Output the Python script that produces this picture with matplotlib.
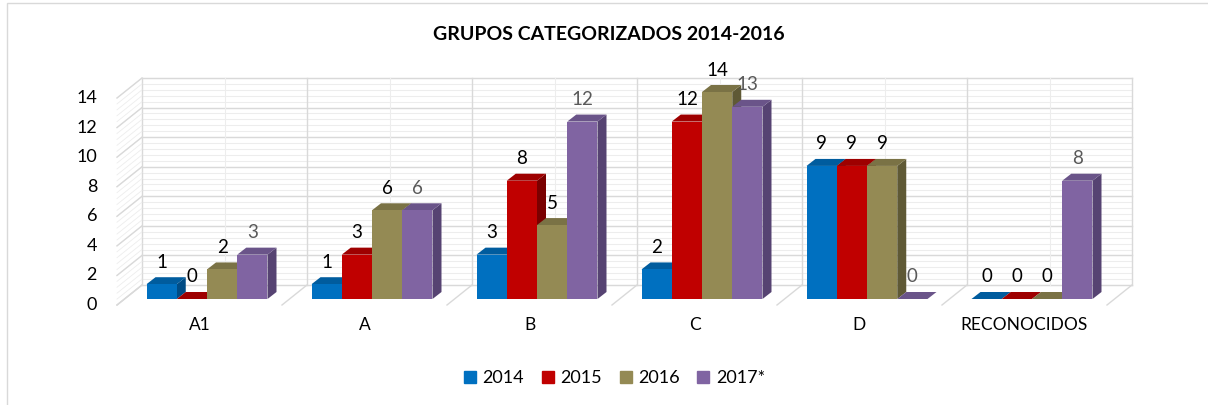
import numpy as np
import matplotlib.pyplot as plt
from matplotlib.patches import Polygon, Rectangle
from matplotlib.lines import Line2D

plt.rcParams['font.family'] = ['Lato', 'DejaVu Sans']

categories = ["A1", "A", "B", "C", "D", "RECONOCIDOS"]
series = ["2014", "2015", "2016", "2017*"]
v2014 = [1, 1, 3, 2, 9, 0]
v2015 = [0, 3, 8, 12, 9, 0]
v2016 = [2, 6, 5, 14, 9, 0]
v2017 = [3, 6, 12, 13, 0, 8]
yticks = [0, 2, 4, 6, 8, 10, 12, 14]

values = [v2014, v2015, v2016, v2017]
front_col = ['#0070C0', '#C00000', '#948A54', '#8064A2']
top_col = ['#005C9E', '#9E0000', '#7A7245', '#6A5489']
side_col = ['#004C85', '#7A0000', '#5F5935', '#564372']
lab_col = ['#000000', '#000000', '#000000', '#595959']

W, H = 1208, 405
fig = plt.figure(figsize=(W / 100, H / 100), dpi=100)

# axes = the plane the bar fronts sit in
left_px, right_px = 124.5, 1114.5
base_px, top_px = 299, 92          # y of 0 and 14 (from top)
ax = fig.add_axes([left_px / W, (H - base_px) / H,
                   (right_px - left_px) / W, (base_px - top_px) / H])
ncat = len(categories)
ax.set_xlim(0, ncat)
ax.set_ylim(0, 14)
ax.axis('off')

kx = (right_px - left_px) / ncat    # px per category
ky = (base_px - top_px) / 14.0      # px per unit

# offsets (pixels -> data)
back_dx, back_dy = 17.5 / kx, 14 / ky
front_dx, front_dy = -7.5 / kx, -6 / ky
bar_dx, bar_dy = 9 / kx, 7 / ky

grid_major = '#D9D9D9'
grid_minor = '#EDEDED'

# back wall gridlines
minor = np.arange(0, 14.001, 0.4)
for v in minor:
    ax.plot([back_dx, ncat + back_dx], [v + back_dy, v + back_dy],
            color=grid_minor, lw=0.8, clip_on=False, zorder=1)
for v in yticks:
    ax.plot([back_dx, ncat + back_dx], [v + back_dy, v + back_dy],
            color=grid_major, lw=1, clip_on=False, zorder=1)
for i in range(ncat):
    ax.plot([i + 0.5 + back_dx] * 2, [back_dy, 14 + back_dy],
            color=grid_minor, lw=0.8, clip_on=False, zorder=1)
for i in range(ncat + 1):
    ax.plot([i + back_dx] * 2, [back_dy, 14 + back_dy],
            color=grid_major, lw=1, clip_on=False, zorder=1)

# side wall slant lines
for v in minor:
    ax.plot([front_dx, back_dx], [v + front_dy, v + back_dy],
            color=grid_minor, lw=0.6, clip_on=False, zorder=1)
for v in yticks:
    ax.plot([front_dx, back_dx], [v + front_dy, v + back_dy],
            color=grid_major, lw=1, clip_on=False, zorder=1)

# floor slant lines
for i in range(ncat + 1):
    ax.plot([i + front_dx, i + back_dx], [front_dy, back_dy],
            color=grid_major, lw=1, clip_on=False, zorder=1)

# bars
nser = len(series)
bw = 0.7333 / nser
for i in range(ncat):
    for j in range(nser):
        h = values[j][i]
        x0 = i + 0.5 - 0.7333 / 2 + j * bw
        side = Polygon([(x0 + bw, 0), (x0 + bw, h), (x0 + bw + bar_dx, h + bar_dy),
                        (x0 + bw + bar_dx, bar_dy)], closed=True,
                       facecolor=side_col[j], edgecolor='none', clip_on=False, zorder=3)
        top = Polygon([(x0, h), (x0 + bw, h), (x0 + bw + bar_dx, h + bar_dy),
                       (x0 + bar_dx, h + bar_dy)], closed=True,
                      facecolor=top_col[j], edgecolor='none', clip_on=False, zorder=3)
        ax.add_patch(side)
        ax.add_patch(top)
        ax.bar(x0, h, width=bw, align='edge', color=front_col[j],
               linewidth=0, clip_on=False, zorder=3)

# value labels
for i in range(ncat):
    for j in range(nser):
        h = values[j][i]
        x0 = i + 0.5 - 0.7333 / 2 + j * bw
        ax.text(x0 + bw / 2, h + 22 / ky, str(h), ha='center', va='center',
                fontsize=13.5, color=lab_col[j], zorder=10, clip_on=False)

# y tick labels (front plane)
for v in yticks:
    ax.text(front_dx - 20 / kx, v + front_dy, str(v), ha='right', va='center',
            fontsize=13, color='#000000', clip_on=False)

# category labels
for i, c in enumerate(categories):
    ax.text(i + 0.5 + front_dx, -26 / ky, c, ha='center', va='center',
            fontsize=12.5, color='#000000', clip_on=False)

fig.text(609 / W, 1 - 34 / H, "GRUPOS CATEGORIZADOS 2014-2016", ha='center',
         va='center', fontsize=14, fontweight='bold', color='#000000')

handles = [Line2D([], [], marker='s', linestyle='none', markersize=9,
                  markerfacecolor=c, markeredgecolor=c) for c in front_col]
fig.legend(handles, series, loc='center', bbox_to_anchor=(613 / W, 1 - 378 / H),
           ncol=4, frameon=False, fontsize=13, handletextpad=0.2,
           columnspacing=0.8, handlelength=1.0)

# chart border
fig.patches.append(Rectangle((7 / W, -0.1), 1.2, 1.1 - 3 / H,
                             transform=fig.transFigure, fill=False,
                             edgecolor='#D9D9D9', lw=1))

fig.savefig('out.png', dpi=100, facecolor='white')
